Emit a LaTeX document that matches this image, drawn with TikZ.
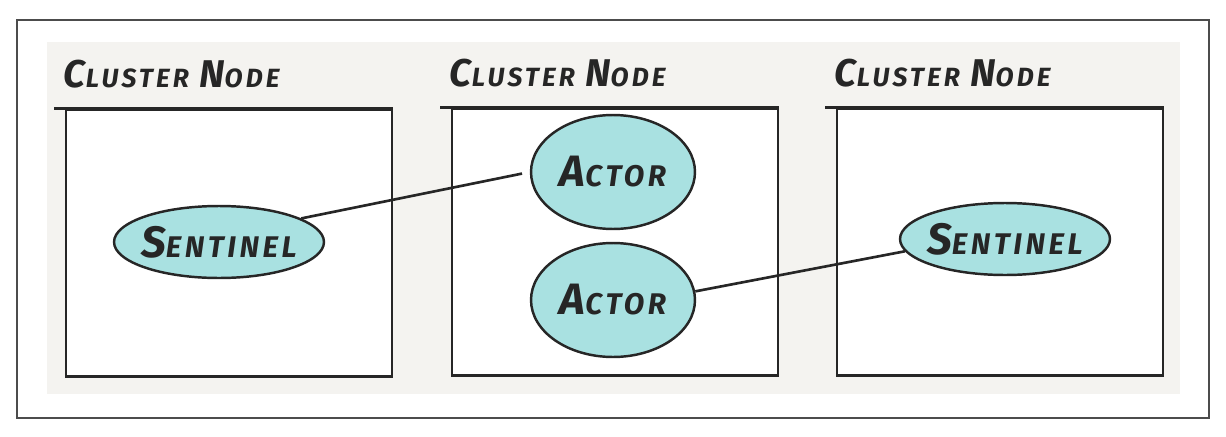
\documentclass[tikz,border=0pt]{standalone}
\usepackage{fontspec}
\setmainfont{Fira Sans}
\usetikzlibrary{positioning,shapes.geometric}
\definecolor{inkc}{HTML}{262626}
\definecolor{paperc}{HTML}{F4F3F0}
\definecolor{tealc}{HTML}{A9E1E1}
\newcommand\hwb{22}
\newcommand\hws{15}
\newcommand\hw[2]{{\addfontfeature{LetterSpace=12}\fontsize{\hwb}{\hwb}\selectfont #1\fontsize{\hws}{\hws}\selectfont #2}}

\tikzset{
  clusterbox/.style={draw=inkc,fill=white,line width=1.6pt,minimum width=6.52cm,minimum height=5.34cm,inner sep=0pt},
  title/.style={anchor=south west,text=inkc,font=\bfseries\itshape,inner sep=0pt},
  sentinel/.style={ellipse,draw=inkc,fill=tealc,line width=1.4pt,minimum width=4.2cm,minimum height=1.44cm,inner ysep=0pt,inner xsep=-4pt,text=inkc,
    font=\bfseries\itshape\renewcommand\hwb{25}\renewcommand\hws{17}},
  actor/.style={sentinel,minimum width=3.28cm,minimum height=2.28cm},
  link/.style={draw=inkc,line width=1.5pt}
}

\begin{document}
\begin{tikzpicture}[x=0.02cm,y=-0.02cm]
\useasboundingbox (0,0) rectangle (1226,436);
\draw[gray!60!black,line width=0.7pt] (17,20) rectangle (1209,418);
\fill[paperc] (47,42) rectangle (1180,394);

\node[clusterbox] (n1) at (229,243) {};
\node[clusterbox] (n2) at (615,242) {};
\node[clusterbox] (n3) at (1000,242) {};
\foreach \n in {n1,n2,n3}{
  \draw[inkc,line width=1.6pt] ([xshift=-6pt]\n.north west) -- (\n.north east);
  \node[title] at ([shift={(-1,-20)}]\n.north west) {\hw{C}{LUSTER}\hspace{0.6em}\hw{N}{ODE}};
}

\node[sentinel] (s1) at (219,242) {\hw{S}{ENTINEL}};
\node[actor] (a1) at (613,172) {\hw{A}{CTOR}};
\node[actor] (a2) at (613,300) {\hw{A}{CTOR}};
\node[sentinel] (s2) at (1005,239) {\hw{S}{ENTINEL}};

\draw[link,shorten >=4.5pt] (s1.16) -- (a1.west);
\draw[link] (a2.6) -- (s2.187);
\end{tikzpicture}
\end{document}
